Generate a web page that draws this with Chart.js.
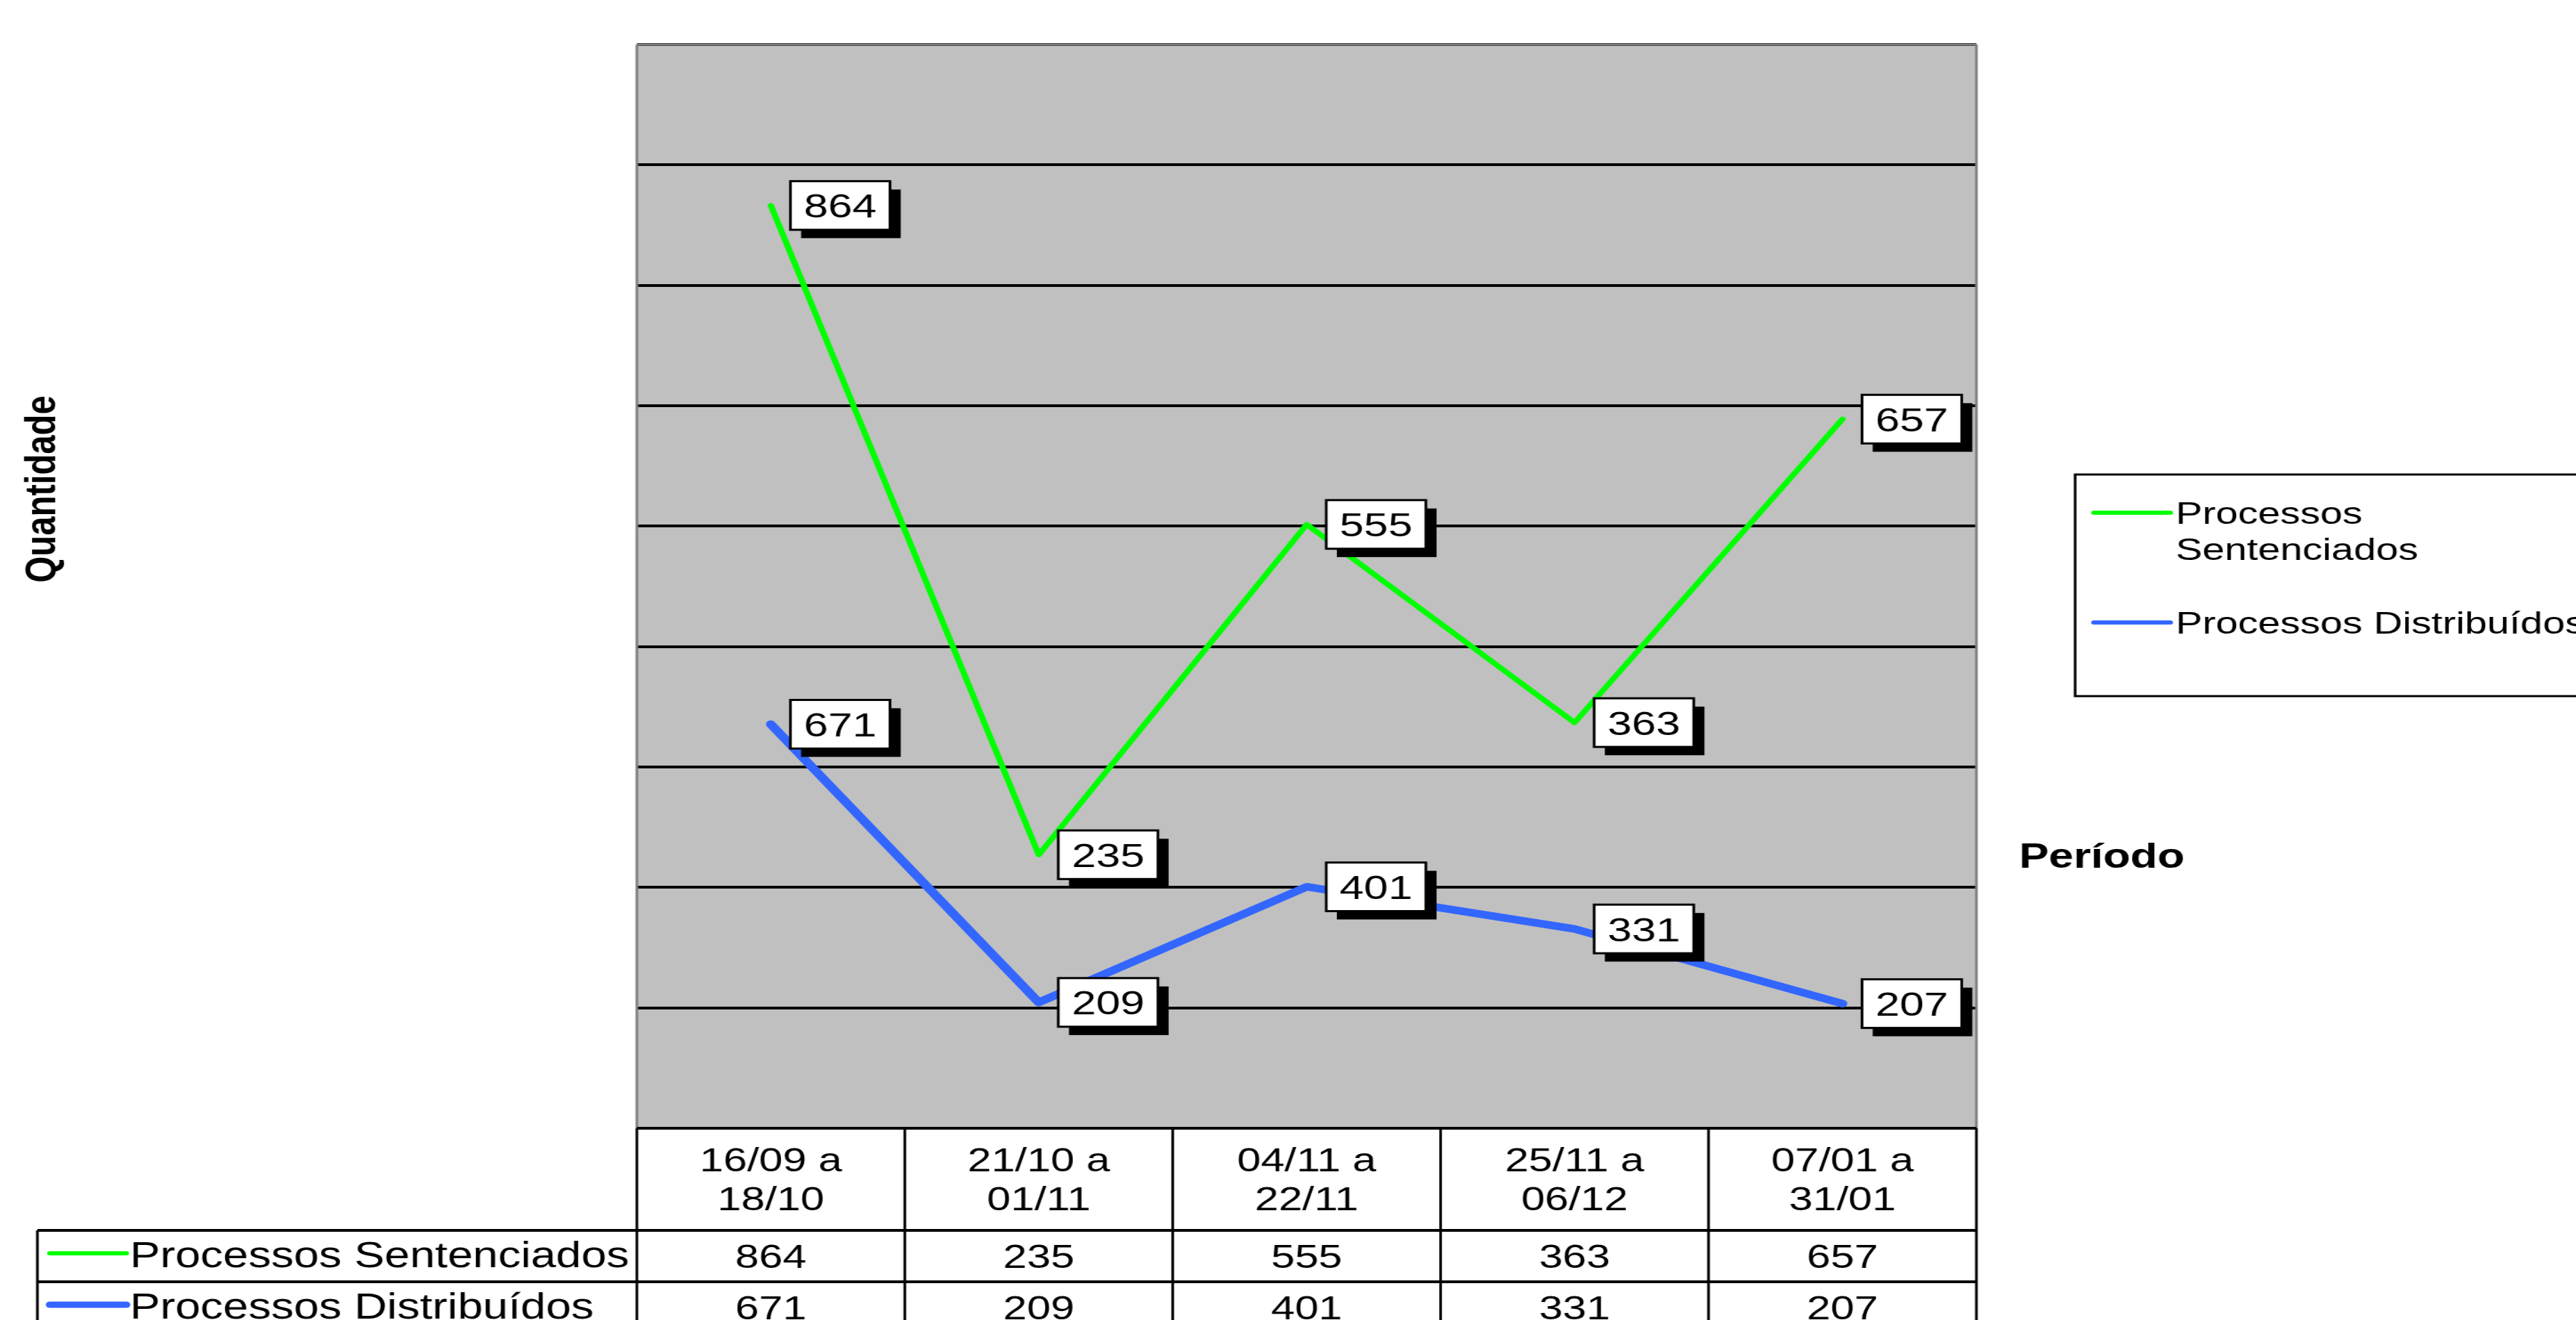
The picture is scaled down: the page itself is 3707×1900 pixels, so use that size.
<!DOCTYPE html>
<html>
<head>
<meta charset="utf-8">
<script src="https://cdn.jsdelivr.net/npm/chart.js@4.4.0/dist/chart.umd.min.js"></script>
<style>
  html, body { margin: 0; padding: 0; background: #fff; overflow: hidden; }
  #wrap { width: 3707px; height: 1900px; overflow: hidden; }
  /* the reference is stretched sideways, so the canvas is drawn narrow and widened */
  #chart { display: block; transform: scaleX(1.28); transform-origin: 0 0; }
</style>
</head>
<body>
<div id="wrap"><canvas id="chart" width="2896" height="1900"></canvas></div>
<script>
// data
const periodos = [
  ['16/09 a', '18/10'],
  ['21/10 a', '01/11'],
  ['04/11 a', '22/11'],
  ['25/11 a', '06/12'],
  ['07/01 a', '31/01']
];
const sentenciados = [864, 235, 555, 363, 657];
const distribuidos = [671, 209, 401, 331, 207];
const serieNomes = ['Processos Sentenciados', 'Processos Distribuídos'];
const serieCores = ['#00ff00', '#3366ff'];

// axis (no tick labels are shown, only the grid)
const yMax = 1800;
const yStep = 200;

const FONT = '"Liberation Sans", Arial, sans-serif';

function textAt(ctx, txt, x, y, size, bold, align) {
  ctx.font = (bold ? 'bold ' : '') + size + 'px ' + FONT;
  ctx.textAlign = align || 'center';
  ctx.textBaseline = 'alphabetic';
  // y is the middle of the capitals
  ctx.fillText(txt, x, y + size * 0.358);
}

function hline(ctx, x1, x2, y) {
  ctx.beginPath(); ctx.moveTo(x1, y); ctx.lineTo(x2, y); ctx.stroke();
}
function vline(ctx, x, y1, y2) {
  ctx.beginPath(); ctx.moveTo(x, y1); ctx.lineTo(x, y2); ctx.stroke();
}

const sheetPlugin = {
  id: 'sheet',
  beforeDraw(chart) {
    const { ctx, chartArea: a } = chart;
    ctx.save();
    ctx.fillStyle = '#ffffff';
    ctx.fillRect(0, 0, chart.width, chart.height);
    ctx.fillStyle = '#c0c0c0';
    ctx.fillRect(a.left, a.top, a.right - a.left, a.bottom - a.top);
    ctx.restore();
  },
  afterDatasetsDraw(chart) {
    const ctx = chart.ctx;
    ctx.save();
    chart.data.datasets.forEach((ds, di) => {
      chart.getDatasetMeta(di).data.forEach((pt, j) => {
        const bw = 112, bh = 70;
        const bx = pt.x + 22, by = pt.y - bh / 2;
        ctx.fillStyle = '#000';
        ctx.fillRect(bx + 12, by + 12, bw, bh);
        ctx.fillStyle = '#fff';
        ctx.fillRect(bx, by, bw, bh);
        ctx.strokeStyle = '#000';
        ctx.lineWidth = 3;
        ctx.strokeRect(bx, by, bw, bh);
        ctx.fillStyle = '#000';
        textAt(ctx, String(ds.data[j]), bx + bw / 2, by + bh / 2, 49, false);
      });
    });
    ctx.restore();
  },
  afterDraw(chart) {
    const { ctx, chartArea: a } = chart;
    const x = chart.scales.x;
    const step = x.getPixelForValue(1) - x.getPixelForValue(0);
    ctx.save();

    // plot frame
    ctx.strokeStyle = '#808080';
    ctx.lineWidth = 3;
    hline(ctx, a.left, a.right, a.top);
    vline(ctx, a.left, a.top, a.bottom);
    vline(ctx, a.right, a.top, a.bottom);

    // data table
    const hTop = a.bottom, hBot = 1771, r1 = 1845, r2 = 1919, labL = 42;
    ctx.strokeStyle = '#000';
    ctx.lineWidth = 4;
    hline(ctx, a.left, a.right, hTop);
    hline(ctx, labL, a.right, hBot);
    hline(ctx, labL, a.right, r1);
    hline(ctx, labL, a.right, r2);
    ctx.lineWidth = 3;
    vline(ctx, labL, hBot, r2);
    vline(ctx, a.left, hTop, r2);
    vline(ctx, a.right, hTop, r2);
    for (let i = 1; i < periodos.length; i++) {
      vline(ctx, a.left + i * step, hTop, r2);
    }

    ctx.fillStyle = '#000';
    const hMid = (hTop + hBot) / 2;
    periodos.forEach((p, i) => {
      const cx = x.getPixelForValue(i);
      textAt(ctx, p[0], cx, hMid - 29, 48, false);
      textAt(ctx, p[1], cx, hMid + 27, 48, false);
    });
    const rows = [sentenciados, distribuidos];
    rows.forEach((vals, ri) => {
      const top = ri === 0 ? hBot : r1;
      const bot = ri === 0 ? r1 : r2;
      const cy = (top + bot) / 2;
      vals.forEach((v, i) => {
        textAt(ctx, String(v), x.getPixelForValue(i), cy, 48, false);
      });
      ctx.strokeStyle = serieCores[ri];
      ctx.lineWidth = ri === 0 ? 6 : 9;
      ctx.lineCap = 'round';
      hline(ctx, 56, 142, cy - 4);
      ctx.fillStyle = '#000';
      textAt(ctx, serieNomes[ri], 146, cy - 2, 51, false, 'left');
    });

    // legend
    ctx.strokeStyle = '#000';
    ctx.lineWidth = 3;
    ctx.lineCap = 'butt';
    ctx.strokeRect(2333, 683, 700, 319);
    ctx.lineCap = 'round';
    ctx.lineWidth = 6;
    ctx.strokeStyle = serieCores[0];
    hline(ctx, 2354, 2440, 738);
    ctx.strokeStyle = serieCores[1];
    hline(ctx, 2354, 2440, 896);
    ctx.fillStyle = '#000';
    textAt(ctx, 'Processos', 2446, 738, 45, false, 'left');
    textAt(ctx, 'Sentenciados', 2446, 790, 45, false, 'left');
    textAt(ctx, serieNomes[1], 2446, 896, 45, false, 'left');

    // axis titles
    textAt(ctx, 'Período', 2270, 1231, 50, true, 'left');
    ctx.translate(44, 704);
    ctx.rotate(-Math.PI / 2);
    textAt(ctx, 'Quantidade', 0, 0, 49, true);

    ctx.restore();
  }
};

new Chart(document.getElementById('chart'), {
  type: 'line',
  data: {
    labels: periodos,
    datasets: [
      {
        label: serieNomes[0],
        data: sentenciados,
        yAxisID: 'y2',
        borderColor: serieCores[0],
        borderWidth: 7,
        pointRadius: 0,
        tension: 0,
        borderCapStyle: 'round',
        borderJoinStyle: 'round'
      },
      {
        label: serieNomes[1],
        data: distribuidos,
        yAxisID: 'y',
        borderColor: serieCores[1],
        borderWidth: 11,
        pointRadius: 0,
        tension: 0,
        borderCapStyle: 'round',
        borderJoinStyle: 'round'
      }
    ]
  },
  options: {
    responsive: false,
    animation: false,
    devicePixelRatio: 1,
    layout: { padding: { left: 716, right: 674, top: 64, bottom: 276 } },
    plugins: {
      legend: { display: false },
      tooltip: { enabled: false }
    },
    scales: {
      x: { display: false, offset: true },
      y: {
        min: 0,
        max: yMax,
        ticks: { display: false, stepSize: yStep },
        grid: { color: '#000', lineWidth: 4, drawTicks: false },
        border: { display: false }
      },
      // green series sits on its own hidden scale in the original
      y2: { display: false, min: -30, max: 1020 }
    }
  },
  plugins: [sheetPlugin]
});
</script>
</body>
</html>
